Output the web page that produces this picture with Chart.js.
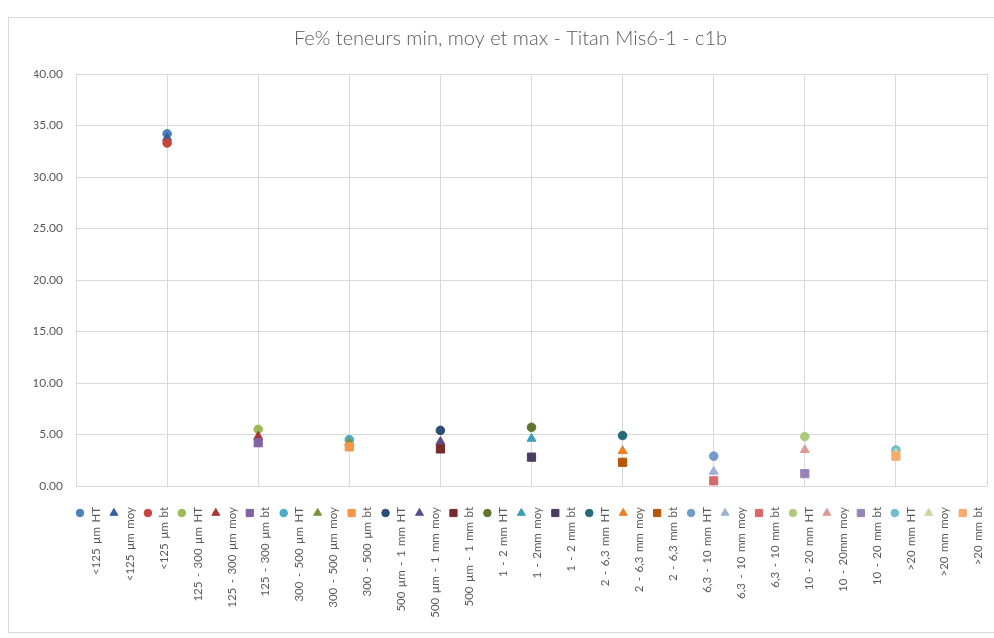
<!DOCTYPE html>
<html>
<head>
<meta charset="utf-8">
<script src="https://cdn.jsdelivr.net/npm/chart.js@4.4.1/dist/chart.umd.min.js"></script>
<style>
  html, body { margin: 0; padding: 0; background: #fff; }
  #wrap { position: relative; width: 994px; height: 638px; overflow: hidden; }
  #frame { position: absolute; left: 8px; top: 17px; width: 1010px; height: 614px;
           border: 1px solid #d9d9d9; pointer-events: none; }
  canvas { position: absolute; left: 0; top: 0; }
</style>
</head>
<body>
<div id="wrap">
  <div id="frame"></div>
  <canvas id="feChart" width="994" height="638"></canvas>
</div>
<script>
/* ─── Data ─────────────────────────────────────────────────────────────── */
const chartTitle = 'Fe% teneurs min, moy et max - Titan Mis6-1 - c1b';

// size classes, placed on the x axis at positions 1..9
const sizeClasses = ['<125 µm', '125 - 300 µm', '300 - 500 µm', '500 µm - 1 mm',
  '1 - 2 mm', '2 - 6,3 mm', '6,3 - 10 mm', '10 - 20 mm', '>20 mm'];
const classPos = [1, 2, 3, 4, 5, 6, 7, 8, 9];

// Fe % : high (HT), mean (moy), low (bt) for each class
const htValues  = [34.2, 5.5, 4.5, 5.4, 5.7, 4.9, 2.9, 4.8, 3.5];
const moyValues = [33.8, 4.8, 4.2, 4.3, 4.6, 3.4, 1.4, 3.5, 3.2];
const btValues  = [33.3, 4.2, 3.8, 3.6, 2.8, 2.3, 0.5, 1.2, 2.9];

// legend labels as written in the workbook (HT, moy, bt per class)
const seriesLabels = [
  '<125 µm HT', '<125 µm moy', '<125 µm bt',
  '125 - 300 µm HT', '125 - 300 µm moy', '125 - 300 µm bt',
  '300 - 500 µm HT', '300 - 500 µm moy', '300 - 500 µm bt',
  '500 µm - 1 mm HT', '500 µm - 1 mm moy', '500 µm - 1 mm bt',
  '1 - 2 mm HT', '1 - 2mm moy', '1 - 2 mm bt',
  '2 - 6,3 mm HT', '2 - 6,3 mm moy', '2 - 6,3 mm bt',
  '6,3 - 10 mm HT', '6,3 - 10 mm moy', '6,3 - 10 mm bt',
  '10 - 20 mm HT', '10 - 20mm moy', '10 - 20 mm bt',
  '>20 mm HT', '>20 mm moy', '>20 mm bt'
];

const seriesColors = [
  '#4f81bd', '#35609e', '#c9443f',
  '#9bbb59', '#a8363a', '#8064a2',
  '#4bacc6', '#77933c', '#f79646',
  '#2c4d75', '#5f4b8b', '#772c2a',
  '#5f7530', '#3c9dba', '#4d3b62',
  '#276a7c', '#f07d1e', '#b65708',
  '#729aca', '#9db0d6', '#d56b69',
  '#afc97a', '#db9a97', '#9983b5',
  '#6fbdd1', '#c5d9a0', '#f9ab6b'
];

const yTicks = { min: 0, max: 40, step: 5 };

/* ─── Build datasets ───────────────────────────────────────────────────── */
const markerFor = { HT: 'circle', moy: 'triangle', bt: 'rect' };
const radiusFor = { circle: 4.3, triangle: 5.2, rect: 5.8 };

const datasets = [];
sizeClasses.forEach((cls, c) => {
  [['HT', htValues], ['moy', moyValues], ['bt', btValues]].forEach(([kind, vals]) => {
    const i = datasets.length;
    const style = (i === 2) ? 'circle' : markerFor[kind];
    datasets.push({
      label: seriesLabels[i],
      data: [{ x: classPos[c], y: vals[c] }],
      pointStyle: style,
      pointRadius: radiusFor[style],
      pointBackgroundColor: seriesColors[i],
      pointBorderColor: seriesColors[i],
      pointBorderWidth: 1,
      showLine: false,
      order: 100 - i
    });
  });
});

/* ─── Rotated legend below the plot ────────────────────────────────────── */
const LEG_X0 = 80, LEG_STEP = 33.95, LEG_Y = 513, LEG_TEXT_TOP = 507;

const rotatedLegend = {
  id: 'rotatedLegend',
  afterDraw(chart) {
    const ctx = chart.ctx;
    ctx.save();
    chart.data.datasets.forEach((ds, i) => {
      const x = LEG_X0 + i * LEG_STEP;
      ctx.fillStyle = ds.pointBackgroundColor;
      ctx.strokeStyle = ds.pointBorderColor;
      ctx.lineWidth = 1;
      Chart.helpers.drawPoint(ctx, {
        pointStyle: ds.pointStyle,
        radius: ds.pointRadius * 0.88,
        rotation: 0,
        borderWidth: 1
      }, x, LEG_Y);

      ctx.save();
      ctx.translate(x + 16, LEG_TEXT_TOP);
      ctx.rotate(-Math.PI / 2);
      ctx.fillStyle = '#595959';
      ctx.font = '11.5px Lato, "Open Sans", sans-serif';
      if ('wordSpacing' in ctx) ctx.wordSpacing = '1.5px';
      ctx.textAlign = 'right';
      ctx.textBaseline = 'middle';
      ctx.fillText(ds.label, 0, 0);
      ctx.restore();
    });
    ctx.restore();
  }
};

/* ─── Chart ────────────────────────────────────────────────────────────── */
const tickFont = { family: 'Lato, "Open Sans", sans-serif', size: 12 };
const gridColor = '#d9d9d9';

new Chart(document.getElementById('feChart'), {
  type: 'scatter',
  data: { datasets },
  plugins: [rotatedLegend],
  options: {
    responsive: false,
    animation: false,
    events: [],
    layout: { padding: { left: 34, right: 7, top: 27, bottom: 152 } },
    plugins: {
      legend: { display: false },
      tooltip: { enabled: false },
      title: {
        display: true,
        text: chartTitle,
        color: '#595959',
        font: { family: 'Lato, "Open Sans", sans-serif', size: 20, weight: 300 },
        padding: { top: 0, bottom: 23 }
      }
    },
    scales: {
      x: {
        type: 'linear',
        min: 0,
        max: 10,
        ticks: { display: false, stepSize: 1 },
        grid: { color: gridColor, drawTicks: false },
        border: { display: false }
      },
      y: {
        min: yTicks.min,
        max: yTicks.max,
        ticks: {
          stepSize: yTicks.step,
          color: '#595959',
          font: tickFont,
          padding: 13,
          callback: v => v.toFixed(2)
        },
        grid: { color: gridColor, drawTicks: false },
        border: { display: false },
        afterFit: scale => { scale.width = 42; }
      }
    }
  }
});
</script>
</body>
</html>
